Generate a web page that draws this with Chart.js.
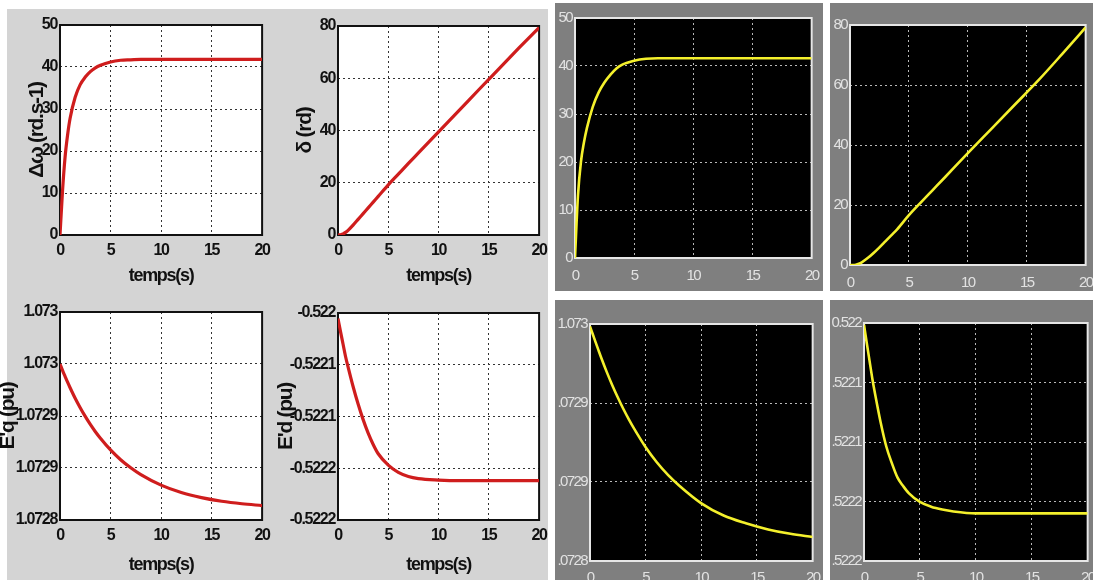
<!DOCTYPE html>
<html><head><meta charset="utf-8">
<script src="https://cdn.jsdelivr.net/npm/chart.js@4/dist/chart.umd.min.js"></script>
<style>
html,body{margin:0;padding:0;width:1093px;height:580px;overflow:hidden;background:#fff;position:relative;}
.bg{position:absolute;}
canvas{position:absolute;}
</style></head><body>
<div class="bg" style="left:7px;top:9px;width:541px;height:571px;background:#d4d4d4"></div>
<div class="bg" style="left:555px;top:3px;width:268px;height:288px;background:#7f7f7f"></div>
<div class="bg" style="left:830px;top:3px;width:263px;height:288px;background:#7f7f7f"></div>
<div class="bg" style="left:555px;top:300px;width:268px;height:280px;background:#7f7f7f"></div>
<div class="bg" style="left:830px;top:300px;width:263px;height:280px;background:#7f7f7f"></div>
<script>
// ---- data ----
const time = [0,0.25,0.5,0.75,1,1.5,2,2.5,3,3.5,4,5,6,7,8,10,12,14,16,18,20];
const timeTicks = [0,5,10,15,20];
const timeTickLabels = ['0','5','10','15','20'];

const speedRed    = [0,10.5,18.5,23.8,27.8,32.8,35.8,37.6,38.9,39.8,40.4,41.2,41.6,41.7,41.8,41.8,41.8,41.8,41.8,41.8,41.8];
const speedYellow = [0,13.0,20.0,24.0,27.0,31.5,34.5,36.6,38.2,39.5,40.3,41.1,41.5,41.6,41.6,41.6,41.6,41.6,41.6,41.6,41.6];
const speedTicks = [0,10,20,30,40,50];
const speedTickLabels = ['0','10','20','30','40','50'];

const angleRed    = [0,0.1,0.4,1.0,1.8,3.8,6.0,8.2,10.4,12.6,14.8,19.2,23.3,27.4,31.4,39.5,47.5,55.6,63.6,71.6,79.4];
const angleYellow = [0,0,0.1,0.4,0.9,2.3,4.0,5.9,7.9,9.9,11.9,16.6,20.8,24.9,29.0,37.3,45.4,53.5,61.6,70.3,79.2];
const angleTicks = [0,20,40,60,80];
const angleTickLabels = ['0','20','40','60','80'];

const eqRed    = [1.07295,1.0729438,1.0729381,1.0729325,1.0729272,1.0729171,1.072908,1.0728996,1.0728919,1.0728849,1.0728786,1.0728674,1.072858,1.0728502,1.0728436,1.0728335,1.0728264,1.0728215,1.072818,1.0728156,1.0728139];
const eqYellow = [1.0729485,1.0729435,1.0729385,1.0729336,1.0729288,1.0729197,1.0729113,1.0729035,1.0728962,1.0728895,1.0728833,1.072872,1.0728625,1.0728545,1.0728478,1.0728365,1.0728288,1.0728239,1.07282,1.0728172,1.0728152];
const eqTicksLeft = [1.0728,1.07285,1.0729,1.07295,1.073];
const eqTickLabelsLeft = ['1.0728','1.0729','1.0729','1.073','1.073'];
const eqTicksRight = [1.0728,1.07285,1.0729,1.07295];
const eqTickLabelsRight = ['.0728','.0729','.0729','1.073'];

const edRed    = [-0.5220054,-0.522018,-0.52203,-0.522042,-0.522052,-0.522071,-0.522088,-0.522103,-0.522116,-0.522127,-0.522136,-0.522147,-0.522154,-0.522158,-0.52216,-0.5221614,-0.522162,-0.522162,-0.522162,-0.522162,-0.522162];
const edYellow = [-0.5220014,-0.522017,-0.522032,-0.522047,-0.52206,-0.522084,-0.522104,-0.522118,-0.52213,-0.522137,-0.522143,-0.5221504,-0.5221544,-0.5221568,-0.5221584,-0.52216,-0.52216,-0.52216,-0.52216,-0.52216,-0.52216];
const edTicks = [-0.5222,-0.52215,-0.5221,-0.52205,-0.522];
const edTickLabelsLeft = ['-0.5222','-0.5222','-0.5221','-0.5221','-0.522'];
const edTickLabelsRight = ['.5222','.5222','.5221','.5221','0.522'];

// ---- drawing ----
const FAM = '"Liberation Sans",Arial,"DejaVu Sans",sans-serif';
const RED = '#cf1d1d', YEL = '#f4f02c';

const boxPlugin = {
  id: 'box',
  beforeDraw(chart, args, o) {
    const a = chart.chartArea, c = chart.ctx;
    c.save(); c.fillStyle = o.fill; c.fillRect(a.left, a.top, a.right - a.left, a.bottom - a.top); c.restore();
    c.letterSpacing = o.spacing;
  },
  beforeDatasetsDraw(chart, args, o) {
    const a = chart.chartArea, c = chart.ctx;
    c.save(); c.strokeStyle = o.stroke; c.lineWidth = o.width;
    c.strokeRect(a.left, a.top, a.right - a.left, a.bottom - a.top); c.restore();
  }
};

function makePanel(p) {
  const dark = p.dark;
  const padTop = 14, padRight = 14;
  const cl = p.L - p.yw, ct = p.T - padTop;
  const W = (p.R - p.L) + p.yw + padRight;
  const H = (p.B - p.T) + padTop + p.xh;
  const cv = document.createElement('canvas');
  cv.width = W; cv.height = H;
  cv.style.left = cl + 'px'; cv.style.top = ct + 'px';
  cv.style.width = W + 'px'; cv.style.height = H + 'px';
  document.body.appendChild(cv);
  const tickColor = dark ? '#e2e2e2' : '#111';
  const tickFont = dark ? {family: FAM, size: 15} : {family: FAM, size: 16, weight: 'bold'};
  const gridColor = dark ? '#b8b8b8' : '#333';
  const yTitleSize = 21, xTitleSize = 18;
  new Chart(cv, {
    type: 'line',
    data: {datasets: [{
      data: time.map((t, i) => ({x: t, y: p.values[i]})),
      borderColor: dark ? YEL : RED, borderWidth: dark ? 2.6 : 3.2,
      pointRadius: 0, fill: false, cubicInterpolationMode: 'monotone'
    }]},
    options: {
      responsive: false, animation: false, events: [],
      layout: {padding: {left: 0, top: padTop, right: padRight, bottom: 0}},
      plugins: {legend: {display: false}, tooltip: {enabled: false},
        box: {fill: dark ? '#000' : '#fff', stroke: dark ? '#e6e6e6' : '#111', width: 2,
              spacing: dark ? '-1.6px' : '-1.3px'}},
      scales: {
        x: {
          type: 'linear', min: 0, max: 20,
          afterFit: s => { s.height = p.xh; },
          afterBuildTicks: s => { s.ticks = timeTicks.map(v => ({value: v})); },
          ticks: {callback: (v, i) => timeTickLabels[i], maxRotation: 0, autoSkip: false,
                  padding: p.xPad, color: tickColor, font: tickFont},
          grid: {color: gridColor, lineWidth: 1, drawTicks: false},
          border: {display: false, dash: [2, 3]},
          title: p.xTitle ? {display: true, text: p.xTitle, color: '#111',
                  font: {family: FAM, size: xTitleSize, weight: 'bold'},
                  padding: {top: 0, bottom: (p.B + p.xh) - p.xTitleY - xTitleSize * 0.6}} : {display: false}
        },
        y: {
          type: 'linear', min: p.yTicks[0], max: p.yTicks[p.yTicks.length - 1],
          afterFit: s => { s.width = p.yw; },
          afterBuildTicks: s => { s.ticks = p.yTicks.map(v => ({value: v})); },
          ticks: {callback: (v, i) => p.yLabels[i], autoSkip: false, padding: 3,
                  color: tickColor, font: tickFont},
          grid: {color: gridColor, lineWidth: 1, drawTicks: false},
          border: {display: false, dash: [2, 3]},
          title: p.yTitle ? {display: true, text: p.yTitle, color: '#111',
                  font: {family: FAM, size: yTitleSize, weight: 'bold'},
                  padding: {top: p.yTitleX - cl - yTitleSize * 0.6, bottom: 0}} : {display: false}
        }
      }
    },
    plugins: [boxPlugin]
  });
}

// left (MATLAB white) panels
makePanel({L: 60, T: 25, R: 263, B: 235, yw: 43, xh: 55, xPad: 6, values: speedRed,
  yTicks: speedTicks, yLabels: speedTickLabels, yTitle: '\u0394\u03C9 (rd.s-1)', yTitleX: 37,
  xTitle: 'temps(s)', xTitleY: 276});
makePanel({L: 338, T: 26, R: 540, B: 235, yw: 53, xh: 55, xPad: 6, values: angleRed,
  yTicks: angleTicks, yLabels: angleTickLabels, yTitle: '\u03B4 (rd)', yTitleX: 305,
  xTitle: 'temps(s)', xTitleY: 276});
makePanel({L: 60, T: 312, R: 263, B: 520, yw: 70, xh: 62, xPad: 6, values: eqRed,
  yTicks: eqTicksLeft, yLabels: eqTickLabelsLeft, yTitle: "E'q (pu)", yTitleX: 8,
  xTitle: 'temps(s)', xTitleY: 565});
makePanel({L: 338, T: 313, R: 540, B: 520, yw: 70, xh: 62, xPad: 6, values: edRed,
  yTicks: edTicks, yLabels: edTickLabelsLeft, yTitle: "E'd (pu)", yTitleX: 286,
  xTitle: 'temps(s)', xTitleY: 565});

// right (scope) panels
makePanel({dark: true, L: 575, T: 18, R: 815, B: 258, yw: 30, xh: 30, xPad: 9, values: speedYellow,
  yTicks: speedTicks, yLabels: speedTickLabels});
makePanel({dark: true, L: 850, T: 25, R: 1089, B: 265, yw: 30, xh: 30, xPad: 9, values: angleYellow,
  yTicks: angleTicks, yLabels: angleTickLabels});
makePanel({dark: true, L: 590, T: 324, R: 815, B: 561, yw: 45, xh: 30, xPad: 8, values: eqYellow,
  yTicks: eqTicksRight, yLabels: eqTickLabelsRight});
makePanel({dark: true, L: 864, T: 323, R: 1090, B: 561, yw: 44, xh: 30, xPad: 8, values: edYellow,
  yTicks: edTicks, yLabels: edTickLabelsRight});
</script>
</body></html>
